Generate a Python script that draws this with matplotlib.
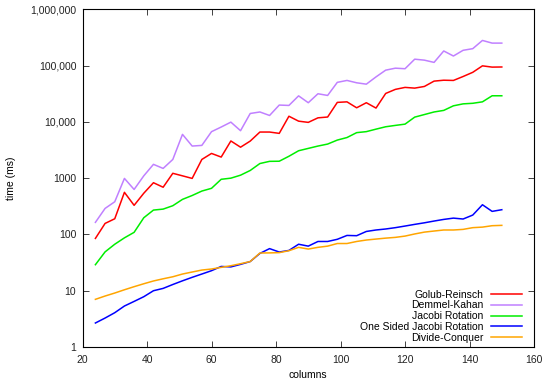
import matplotlib
matplotlib.use("Agg")
import matplotlib.pyplot as plt
from matplotlib.ticker import FixedLocator, FixedFormatter, NullLocator

plt.rcParams["font.family"] = ["Liberation Sans", "DejaVu Sans"]

columns = list(range(24, 151, 3))

golub_reinsch = [85, 157, 190, 560, 329, 540, 830, 690, 1220, 1100, 990, 2150, 2750, 2370,
                 4580, 3550, 4560, 6600, 6600, 6250, 12600, 10300, 9800, 11800, 12200, 22200,
                 22700, 17800, 21900, 17600, 32000, 37800, 41000, 39800, 42600, 53000, 55000,
                 54500, 64000, 76000, 99000, 94000, 94500]

demmel_kahan = [164, 290, 381, 990, 630, 1100, 1760, 1490, 2150, 6000, 3720, 3820, 6700, 8100,
                9900, 6970, 14100, 15000, 13000, 19900, 19600, 29000, 21900, 31600, 29500, 50400,
                54500, 49500, 46800, 63000, 83000, 90000, 88000, 130000, 125000, 114000, 182000,
                148000, 187000, 200000, 280000, 251000, 251000]

jacobi_rotation = [29, 49, 67, 87, 109, 198, 271, 282, 324, 420, 492, 590, 660, 955, 1000, 1130,
                   1370, 1820, 1990, 2000, 2450, 3070, 3380, 3720, 4035, 4750, 5270, 6440, 6710,
                   7430, 8190, 8660, 9120, 12150, 13500, 15000, 16000, 19300, 20900, 21400, 22700,
                   29100, 29100]

one_sided_jacobi = [2.67, 3.27, 4.07, 5.35, 6.46, 7.83, 10, 11, 12.9, 15, 17.3, 19.8, 22.7, 27,
                    26.5, 29.4, 33, 46, 56, 48.7, 52, 67, 62, 75, 75, 82, 96, 95, 113, 120, 125,
                    132, 141, 151, 161, 173, 185, 195, 188, 221, 337, 257, 275]

divide_conquer = [7.03, 8.05, 9.1, 10.4, 11.8, 13.3, 14.9, 16.3, 17.7, 19.8, 21.5, 23.3, 24.3, 26,
                  27.8, 30.2, 33, 46.8, 47, 47.5, 51.4, 59, 55, 59, 62, 69, 69, 75, 79.6, 82.8,
                  86, 88.7, 93.5, 102, 110, 115, 120, 120, 123, 132, 135, 143, 145]

series = [
    ("Golub-Reinsch", golub_reinsch, "#ff0000"),
    ("Demmel-Kahan", demmel_kahan, "#c080ff"),
    ("Jacobi Rotation", jacobi_rotation, "#00ee00"),
    ("One Sided Jacobi Rotation", one_sided_jacobi, "#0000ff"),
    ("Divide-Conquer", divide_conquer, "#ffa500"),
]

y_ticks = [1, 10, 100, 1000, 10000, 100000, 1000000]
y_labels = ["1", "10", "100", "1000", "10,000", "100,000", "1,000,000"]
x_ticks = [20, 40, 60, 80, 100, 120, 140, 160]

fig = plt.figure(figsize=(5.5, 3.82), dpi=100)
ax = fig.add_axes([0.150, 0.0916, 0.821, 0.884])

for name, values, color in series:
    ax.plot(columns, values, color=color, lw=1.1, label=name)

ax.set_yscale("log")
ax.set_ylim(1, 1000000)
ax.set_xlim(20, 160)
ax.yaxis.set_major_locator(FixedLocator(y_ticks))
ax.yaxis.set_major_formatter(FixedFormatter(y_labels))
ax.yaxis.set_minor_locator(NullLocator())
ax.set_xticks(x_ticks)
ax.tick_params(direction="in", top=True, right=True, length=4, width=0.6,
               labelsize=7.5, colors="#222222")
ax.tick_params(axis="y", pad=4.5)
ax.tick_params(axis="x", pad=6)
for spine in ax.spines.values():
    spine.set_linewidth(0.8)

ax.set_xlabel("columns", fontsize=7.5, labelpad=3)
ax.set_ylabel("time (ms)", fontsize=7.5, labelpad=10)

ax.legend(loc="lower right", bbox_to_anchor=(0.982, 0.0), frameon=False,
          markerfirst=False, fontsize=7.5, handlelength=2.95, handletextpad=0.7,
          labelspacing=0.08, borderaxespad=0.0)

fig.savefig("out.png", dpi=100)
